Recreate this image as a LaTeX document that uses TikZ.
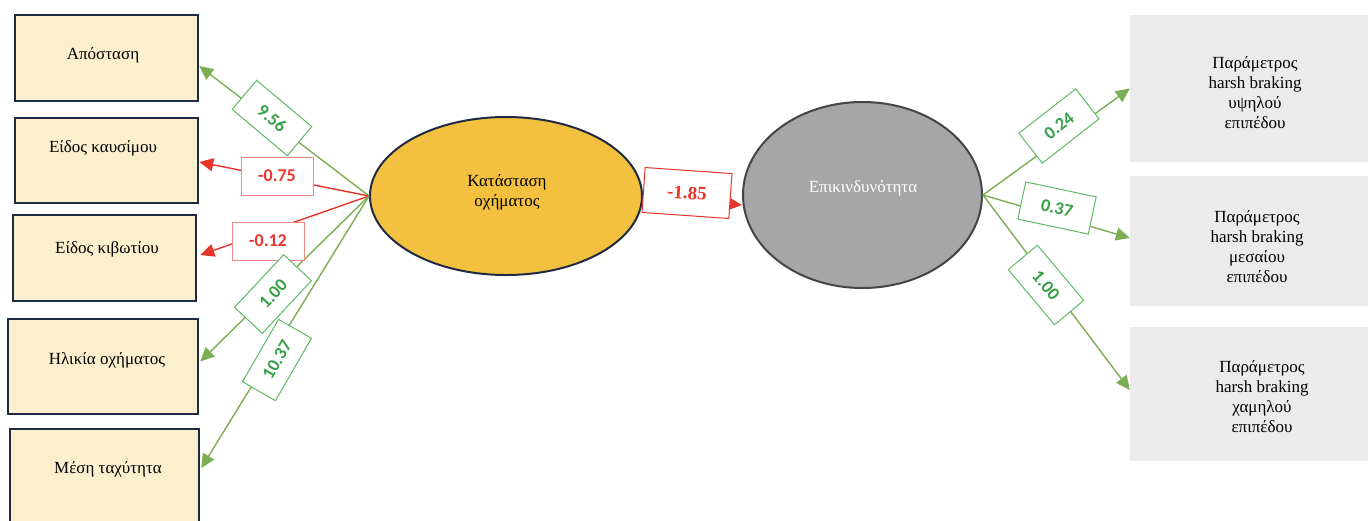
\documentclass[tikz,border=0pt]{standalone}
\usepackage{fontspec}
\setmainfont{Liberation Serif}
\newfontfamily\labfont{Carlito}
\usetikzlibrary{arrows.meta,shapes.geometric}
\definecolor{beige}{HTML}{FBEFCE}
\definecolor{navy}{HTML}{1F2A44}
\definecolor{gold}{HTML}{F3C13F}
\definecolor{midgray}{HTML}{A6A6A6}
\definecolor{edgegray}{HTML}{454545}
\definecolor{lightgray}{HTML}{EBEBEB}
\definecolor{gline}{HTML}{7BAE52}
\definecolor{rline}{HTML}{E8352B}
\definecolor{gborder}{HTML}{5DBB63}
\definecolor{gtext}{HTML}{36A047}
\definecolor{rborder}{HTML}{F08A80}
\begin{document}
\begin{tikzpicture}[x=1pt,y=-1pt,
  lbox/.style={draw=navy,line width=2.5pt,fill=beige,inner sep=0pt,minimum width=183pt},
  rbox/.style={fill=lightgray,inner sep=0pt,minimum width=250pt},
  txt/.style={font=\fontsize{17}{20}\selectfont,inner sep=0pt,align=center},
  garrow/.style={draw=gline,line width=1.4pt,-{Triangle[length=14pt,width=13pt]}},
  rarrow/.style={draw=rline,line width=1.4pt,-{Triangle[length=14pt,width=13pt]}},
  lab/.style={line width=1pt,fill=white,minimum width=72pt,minimum height=38pt,inner sep=0pt,font=\labfont\bfseries\fontsize{18}{20}\selectfont},
  glab/.style={lab,draw=gborder,text=gtext},
  rlab/.style={lab,draw=rborder,text=rline}
]
\useasboundingbox (0,0) rectangle (1368,520);
\clip (0,0) rectangle (1368,520);

% left boxes
\node[lbox,minimum height=86pt] (b1) at (106.5,58) {};
\node[lbox,minimum height=85pt] (b2) at (106.5,160.5) {};
\node[lbox,minimum height=86pt] (b3) at (104.5,258) {};
\node[lbox,minimum width=190pt,minimum height=95pt] (b4) at (103,366.5) {};
\node[lbox,minimum width=189pt,minimum height=102pt] (b5) at (104.5,480) {};
\node[txt] (t1) at (103,55) {Απόσταση};
\node[txt] (t2) at (103,148) {Είδος καυσίμου};
\node[txt] (t3) at (107,249) {Είδος κιβωτίου};
\node[txt] (t4) at (107,360) {Ηλικία οχήματος};
\node[txt] (t5) at (108,469) {Μέση ταχύτητα};

% ellipses
\node[ellipse,draw=navy,line width=2pt,fill=gold,minimum width=272pt,minimum height=158pt,inner sep=0pt] (e1) at (506,196) {};
\node[txt] (e1t) at (507,192.5) {Κατάσταση\\οχήματος};
\node[ellipse,draw=edgegray,line width=2pt,fill=midgray,minimum width=239pt,minimum height=186pt,inner sep=0pt] (e2) at (862.5,195) {};
\node[txt,text=white] (e2t) at (863,188) {Επικινδυνότητα};

% right boxes
\node[rbox,minimum height=147pt] (r1) at (1255,88.5) {};
\node[rbox,minimum height=130pt] (r2) at (1255,241) {};
\node[rbox,minimum height=134pt] (r3) at (1255,394) {};
\node[txt] (rt1) at (1255,93) {Παράμετρος\\harsh braking\\υψηλού\\επιπέδου};
\node[txt] (rt2) at (1257,247) {Παράμετρος\\harsh braking\\μεσαίου\\επιπέδου};
\node[txt] (rt3) at (1262,397) {Παράμετρος\\harsh braking\\χαμηλού\\επιπέδου};

% connectors left
\draw[garrow] (e1.west) -- ([yshift=-8pt]b1.east);
\draw[rarrow] (e1.west) -- ([yshift=-1.5pt]b2.east);
\draw[rarrow] (e1.west) -- ([xshift=3pt,yshift=3pt]b3.east);
\draw[garrow] (e1.west) -- ([xshift=1pt,yshift=5pt]b4.east);
\draw[garrow] (e1.west) -- ([xshift=1pt,yshift=12pt]b5.east);
% middle
\draw[rarrow] (e1.east) -- ([yshift=-10pt]e2.west);
% right
\draw[garrow] (e2.east) -- (r1.west);
\draw[garrow] (e2.east) -- ([yshift=3pt]r2.west);
\draw[garrow] (e2.east) -- ([yshift=4pt]r3.west);

% labels
\node[glab,rotate=-40] (l1) at (272,118) {9.56};
\node[rlab] (l2) at (277,176) {-0.75};
\node[rlab] (l3) at (268,241) {-0.12};
\node[glab,rotate=47] (l4) at (273,294) {1.00};
\node[glab,rotate=60] (l5) at (277,360) {10.37};
\node[lab,draw=rline,text=rline,minimum width=87pt,minimum height=45pt,rotate=-4,font=\bfseries\fontsize{19}{21}\selectfont] (l6) at (687,193) {-1.85};
\node[glab,rotate=38] (l7) at (1059,126) {0.24};
\node[glab,rotate=-12] (l8) at (1057,208) {0.37};
\node[glab,rotate=-50] (l9) at (1046,285) {1.00};
\end{tikzpicture}
\end{document}
